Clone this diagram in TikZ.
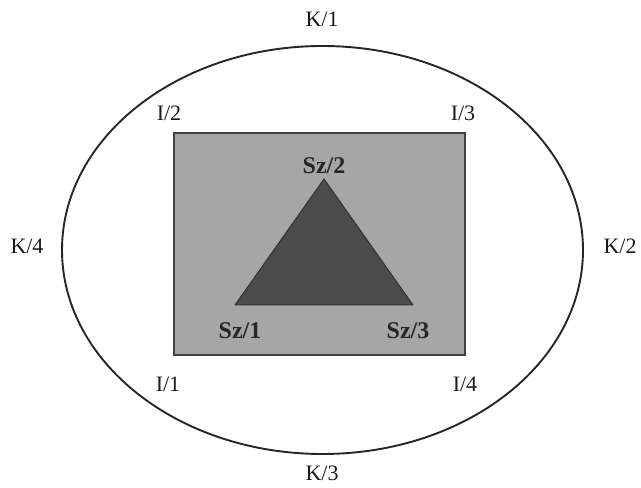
\documentclass[tikz,border=0pt]{standalone}
\usepackage{fontspec}
\setmainfont{Liberation Serif}
\usepackage{tikz}
\usetikzlibrary{positioning, shapes.geometric}

\tikzset{
    lbl/.style={inner sep=0pt, font=\fontsize{22}{26}\selectfont, text=black!90},
    vlbl/.style={lbl, font=\fontsize{24}{28}\selectfont\bfseries, text=black!85},
    outerring/.style={ellipse, draw=black!85, line width=1.9pt, inner sep=0pt},
    innerbox/.style={rectangle, draw=black!75, line width=1.9pt, fill=black!35, inner sep=0pt},
    core/.style={draw=black!80, line width=1pt, line join=round, fill=black!70}
}

\begin{document}
\begin{tikzpicture}[x=1pt, y=1pt]
        \useasboundingbox (0,0) rectangle (641,488);
        % shapes
        \node[outerring, minimum width=521pt, minimum height=408pt] (ring) at (322.5,238) {};
        \node[innerbox, minimum width=291pt, minimum height=222pt] (box) at (319.5,244) {};
        \coordinate (s1) at (235,183);
        \coordinate (s2) at (324,309);
        \coordinate (s3) at (413,183);
        \draw[core] (s1) -- (s2) -- (s3) -- cycle;

        % outer labels
        \node[lbl] (k1) at (322,469) {K/1};
        \node[lbl] (k2) at (620,242) {K/2};
        \node[lbl] (k3) at (322,15) {K/3};
        \node[lbl] (k4) at (27,242) {K/4};

        % box corners
        \node[lbl] (i1) at (168,104) {I/1};
        \node[lbl] (i2) at (169,375) {I/2};
        \node[lbl] (i3) at (463,375) {I/3};
        \node[lbl] (i4) at (465,104) {I/4};

        % triangle corners
        \node[vlbl, above=5pt of s2] (sz2) {Sz/2};
        \node[vlbl] (sz1) at (240,157) {Sz/1};
        \node[vlbl] (sz3) at (408,157) {Sz/3};
\end{tikzpicture}
\end{document}
